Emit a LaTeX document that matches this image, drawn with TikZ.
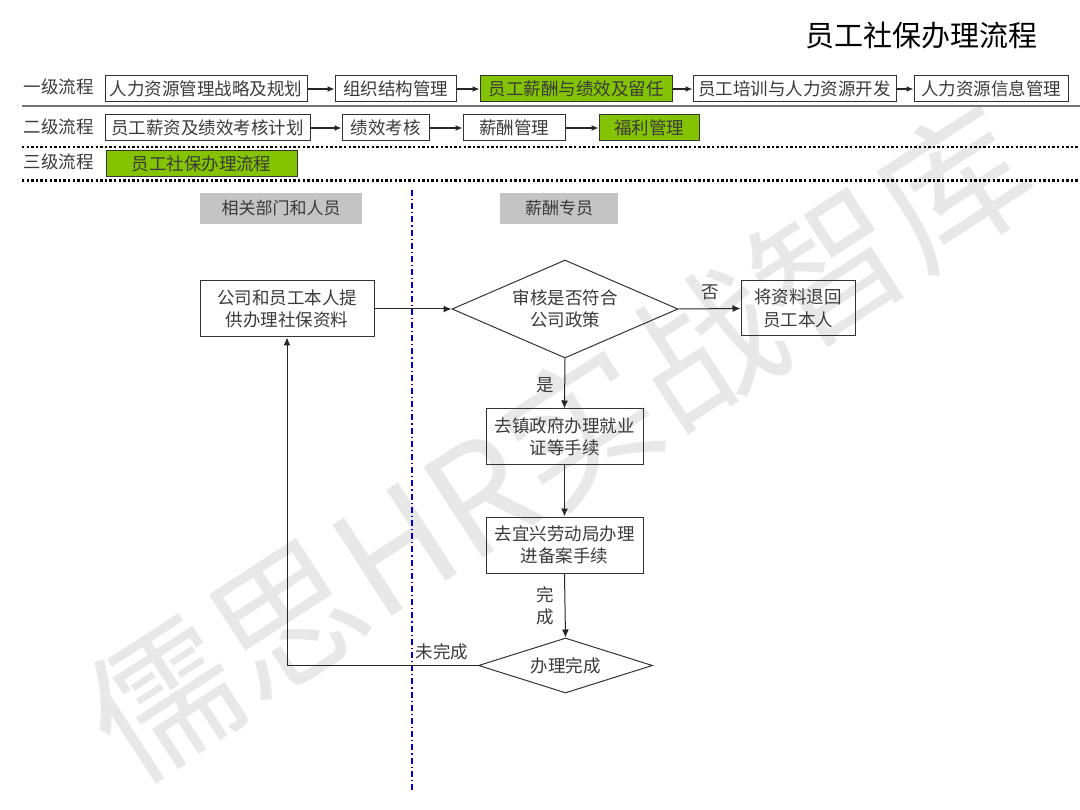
\documentclass[tikz,border=0pt]{standalone}
\usepackage{fontspec}
\setmainfont{Noto Sans CJK SC}
\usetikzlibrary{shapes.geometric,arrows.meta}
\definecolor{hrgreen}{HTML}{84C300}
\definecolor{lanegray}{HTML}{C4C4C4}
\definecolor{txt}{HTML}{3A3A3A}
\tikzset{
  hbox/.style={draw=black!80, line width=1pt, inner sep=0pt, minimum height=26pt,
    font=\fontsize{17.5}{20}\selectfont, text=txt},
  hgreen/.style={hbox, fill=hrgreen},
  lvl/.style={inner sep=0pt, font=\fontsize{17.5}{20}\selectfont, text=txt},
  lane/.style={fill=lanegray, inner sep=0pt, minimum height=31pt,
    font=\fontsize{17}{20}\selectfont, text=txt},
  flowbox/.style={draw=black!80, line width=1pt, inner sep=0pt, align=center,
    font=\fontsize{17.5}{22.5}\selectfont, text=txt},
  dia/.style={diamond, draw=black!80, line width=1pt, inner sep=0pt, align=center,
    font=\fontsize{17.5}{22.5}\selectfont, text=txt},
  lbl/.style={inner sep=0pt, align=center, font=\fontsize{17.5}{22}\selectfont, text=txt},
  arr/.style={-{Latex[length=8pt,width=7pt]}, line width=1pt, draw=black!85},
  harr/.style={-{Latex[length=7pt,width=6pt]}, line width=1.2pt, draw=black!85},
}
\begin{document}
\begin{tikzpicture}[x=1pt,y=-1pt]
\useasboundingbox (0,0) rectangle (1080,810);
% watermark
\node[rotate=33, text=black!9, inner sep=0pt, font=\fontsize{148}{148}\selectfont] (wm) at (558,442) {儒思HR实战智库};
% title
\node[inner sep=0pt, font=\fontsize{29}{32}\selectfont, text=black] (title) at (921,35) {员工社保办理流程};
% level labels
\node[lvl] (l1) at (58.5,87) {一级流程};
\node[lvl] (l2) at (58.5,127) {二级流程};
\node[lvl] (l3) at (58.5,162) {三级流程};
% row 1
\node[hbox, minimum width=202pt] (r1a) at (206,89) {人力资源管理战略及规划};
\node[hbox, minimum width=121pt] (r1b) at (395.5,89) {组织结构管理};
\node[hgreen, minimum width=192pt] (r1c) at (576,89) {员工薪酬与绩效及留任};
\node[hbox, minimum width=203pt] (r1d) at (794.5,89) {员工培训与人力资源开发};
\node[hbox, minimum width=154pt] (r1e) at (991,89) {人力资源信息管理};
\draw[harr] (r1a) -- (r1b);
\draw[harr] (r1b) -- (r1c);
\draw[harr] (r1c) -- (r1d);
\draw[harr] (r1d) -- (r1e);
% separators
\draw[black!55, line width=1.6pt] (22,106) -- (1080,106);
% row 2
\node[hbox, minimum width=205pt] (r2a) at (207.5,128) {员工薪资及绩效考核计划};
\node[hbox, minimum width=87pt] (r2b) at (385.5,128) {绩效考核};
\node[hbox, minimum width=102pt] (r2c) at (514,128) {薪酬管理};
\node[hgreen, minimum width=100pt] (r2d) at (649,128) {福利管理};
\draw[harr] (r2a) -- (r2b);
\draw[harr] (r2b) -- (r2c);
\draw[harr] (r2c) -- (r2d);
\draw[black, line width=2.4pt, dash pattern=on 2.4pt off 2.2pt] (22,147) -- (1080,147);
% row 3
\node[hgreen, minimum width=191pt, minimum height=26.5pt] (r3a) at (201.5,163.5) {员工社保办理流程};
\draw[black, line width=2.4pt, dash pattern=on 2.4pt off 2.2pt] (22,180.5) -- (1080,180.5);
% lanes
\node[lane, minimum width=162pt] (lane1) at (281,208.5) {相关部门和人员};
\node[lane, minimum width=118pt] (lane2) at (559,208.5) {薪酬专员};
\draw[blue!85!black, line width=1.2pt, dash pattern=on 6pt off 3pt on 1.2pt off 3pt] (412,190) -- (412,790);
% flow
\node[flowbox, minimum width=174pt, minimum height=56pt] (a) at (287,309) {公司和员工本人提\\供办理社保资料};
\node[dia, minimum width=226pt, minimum height=98pt, aspect=2.3] (d1) at (565,309) {审核是否符合\\公司政策};
\node[flowbox, minimum width=114pt, minimum height=55pt] (r) at (798,308.5) {将资料退回\\员工本人};
\node[flowbox, minimum width=157pt, minimum height=56pt] (b1) at (564.5,437) {去镇政府办理就业\\证等手续};
\node[flowbox, minimum width=157pt, minimum height=56pt] (b2) at (564.5,545) {去宜兴劳动局办理\\进备案手续};
\node[dia, minimum width=174pt, minimum height=55pt, aspect=3.1] (d2) at (565.5,665.5) {办理完成};
\draw[arr] (a.east) -- (d1.west);
\draw[arr] (d1.east) -- (r.west);
\draw[arr] (d1.south) -- (b1.north);
\draw[arr] (b1.south) -- (b2.north);
\draw[arr] (b2.south) -- (d2.north);
\draw[arr] (d2.west) -| (a.south);
% labels
\node[lbl] (no) at (710,292) {否};
\node[lbl] (yes) at (545,385) {是};
\node[lbl] (done) at (545,605.5) {完\\成};
\node[lbl] (undone) at (442,652) {未完成};
\end{tikzpicture}
\end{document}
